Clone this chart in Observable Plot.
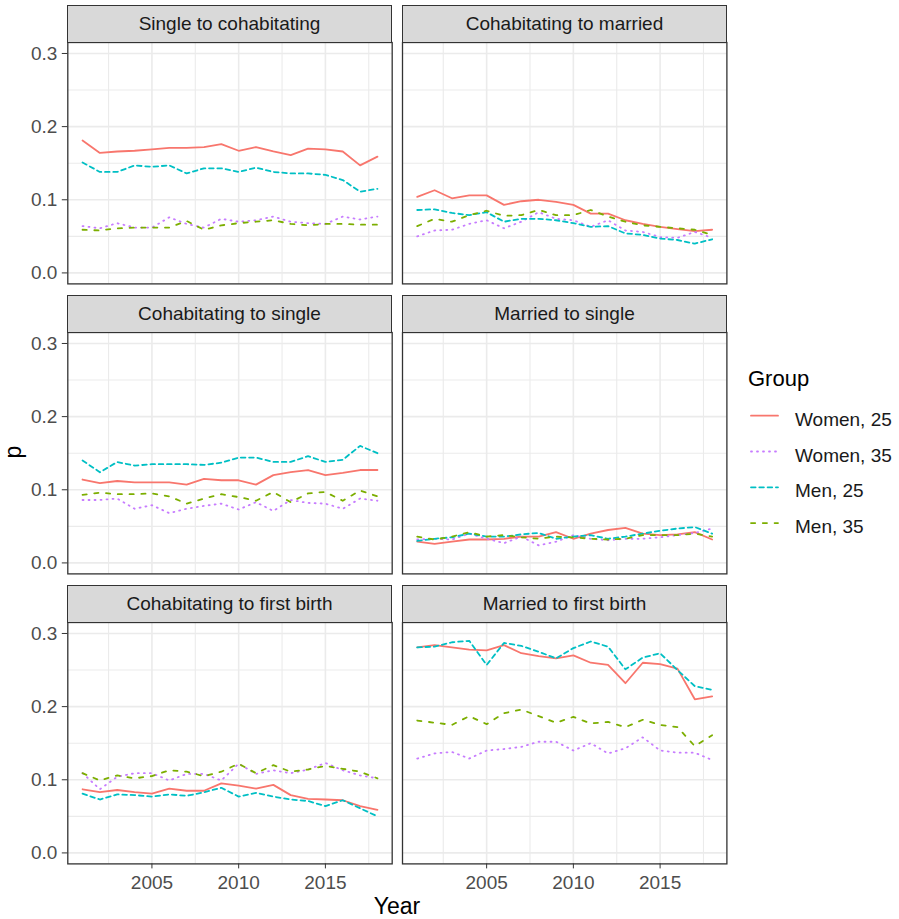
<!DOCTYPE html>
<html><head><meta charset="utf-8">
<script src="https://cdn.jsdelivr.net/npm/d3@7"></script>
<script src="https://cdn.jsdelivr.net/npm/@observablehq/plot@0.6"></script>
<style>
body{margin:0;background:#fff;font-family:"Liberation Sans",Arial,sans-serif;}
#chart{position:relative;width:899px;height:919px;overflow:hidden;background:#fff;}
.strip{position:absolute;box-sizing:border-box;background:#d9d9d9;border:1.3px solid #333;color:#1a1a1a;font-size:19px;display:flex;align-items:center;justify-content:center;}
.pl{position:absolute;}
#overlay{position:absolute;left:0;top:0;pointer-events:none;}
</style></head><body><div id="chart"></div>
<script>
// ---- data ----
const years = [2001,2002,2003,2004,2005,2006,2007,2008,2009,2010,2011,2012,2013,2014,2015,2016,2017,2018];
const groups = ["Women, 25","Women, 35","Men, 25","Men, 35"];
const panelTitles = ["Single to cohabitating","Cohabitating to married","Cohabitating to single","Married to single","Cohabitating to first birth","Married to first birth"];

// each panel: [Women 25, Women 35, Men 25, Men 35]
const singleToCohab_W25 = [0.181,0.164,0.166,0.167,0.169,0.171,0.171,0.172,0.176,0.167,0.172,0.166,0.161,0.170,0.169,0.166,0.147,0.159];
const singleToCohab_W35 = [0.064,0.061,0.068,0.062,0.062,0.076,0.067,0.062,0.074,0.070,0.072,0.077,0.070,0.068,0.067,0.077,0.073,0.077];
const singleToCohab_M25 = [0.151,0.138,0.138,0.147,0.145,0.147,0.136,0.143,0.143,0.138,0.144,0.138,0.136,0.136,0.134,0.127,0.111,0.115];
const singleToCohab_M35 = [0.059,0.058,0.061,0.062,0.062,0.062,0.071,0.059,0.065,0.068,0.070,0.072,0.067,0.065,0.067,0.067,0.066,0.066];

const cohabToMarried_W25 = [0.104,0.113,0.102,0.106,0.106,0.093,0.098,0.100,0.097,0.093,0.081,0.081,0.072,0.067,0.063,0.060,0.057,0.059];
const cohabToMarried_W35 = [0.050,0.058,0.059,0.067,0.072,0.061,0.070,0.083,0.074,0.072,0.063,0.072,0.058,0.056,0.049,0.048,0.056,0.048];
const cohabToMarried_M25 = [0.086,0.087,0.082,0.079,0.083,0.070,0.074,0.074,0.072,0.068,0.063,0.064,0.054,0.052,0.047,0.045,0.040,0.046];
const cohabToMarried_M35 = [0.064,0.074,0.070,0.079,0.085,0.078,0.079,0.086,0.079,0.079,0.086,0.077,0.070,0.065,0.063,0.061,0.059,0.052];

const cohabToSingle_W25 = [0.114,0.109,0.112,0.110,0.110,0.110,0.107,0.115,0.113,0.113,0.107,0.120,0.124,0.127,0.120,0.123,0.127,0.127];
const cohabToSingle_W35 = [0.086,0.086,0.088,0.074,0.079,0.068,0.074,0.078,0.081,0.073,0.083,0.071,0.086,0.082,0.081,0.074,0.088,0.085];
const cohabToSingle_M25 = [0.140,0.124,0.138,0.133,0.135,0.135,0.135,0.134,0.137,0.144,0.144,0.138,0.138,0.146,0.138,0.141,0.160,0.150];
const cohabToSingle_M35 = [0.093,0.096,0.094,0.094,0.095,0.091,0.081,0.088,0.094,0.090,0.085,0.097,0.083,0.095,0.097,0.085,0.099,0.091];

const marriedToSingle_W25 = [0.029,0.026,0.029,0.032,0.032,0.033,0.036,0.036,0.042,0.033,0.040,0.045,0.048,0.040,0.038,0.039,0.042,0.032];
const marriedToSingle_W35 = [0.032,0.033,0.032,0.040,0.033,0.027,0.036,0.024,0.029,0.038,0.033,0.031,0.033,0.033,0.035,0.038,0.041,0.047];
const marriedToSingle_M25 = [0.030,0.033,0.035,0.040,0.036,0.036,0.039,0.041,0.033,0.036,0.038,0.033,0.036,0.040,0.044,0.047,0.049,0.040];
const marriedToSingle_M35 = [0.036,0.032,0.036,0.042,0.036,0.038,0.035,0.033,0.036,0.035,0.033,0.032,0.033,0.038,0.038,0.038,0.040,0.036];

const cohabToBirth_W25 = [0.087,0.083,0.086,0.083,0.081,0.088,0.085,0.085,0.095,0.092,0.088,0.093,0.079,0.074,0.073,0.072,0.064,0.059];
const cohabToBirth_W35 = [0.109,0.087,0.104,0.109,0.109,0.099,0.108,0.108,0.099,0.122,0.108,0.113,0.109,0.114,0.123,0.113,0.106,0.102];
const cohabToBirth_M25 = [0.081,0.073,0.080,0.079,0.077,0.080,0.078,0.083,0.089,0.077,0.082,0.077,0.073,0.071,0.064,0.072,0.061,0.050];
const cohabToBirth_M35 = [0.109,0.099,0.106,0.102,0.105,0.113,0.111,0.105,0.111,0.122,0.109,0.120,0.111,0.114,0.119,0.115,0.111,0.102];

const marriedToBirth_W25 = [0.281,0.284,0.281,0.278,0.277,0.284,0.273,0.269,0.266,0.270,0.260,0.257,0.232,0.260,0.258,0.252,0.210,0.214];
const marriedToBirth_W35 = [0.129,0.136,0.138,0.129,0.140,0.142,0.145,0.152,0.152,0.140,0.150,0.136,0.143,0.158,0.140,0.137,0.137,0.127];
const marriedToBirth_M25 = [0.281,0.282,0.288,0.290,0.257,0.287,0.283,0.275,0.266,0.280,0.289,0.282,0.251,0.267,0.273,0.250,0.228,0.223];
const marriedToBirth_M35 = [0.181,0.178,0.175,0.187,0.176,0.191,0.196,0.187,0.178,0.186,0.177,0.179,0.172,0.182,0.175,0.172,0.146,0.161];

const panelValues = [
  [singleToCohab_W25, singleToCohab_W35, singleToCohab_M25, singleToCohab_M35],
  [cohabToMarried_W25, cohabToMarried_W35, cohabToMarried_M25, cohabToMarried_M35],
  [cohabToSingle_W25, cohabToSingle_W35, cohabToSingle_M25, cohabToSingle_M35],
  [marriedToSingle_W25, marriedToSingle_W35, marriedToSingle_M25, marriedToSingle_M35],
  [cohabToBirth_W25, cohabToBirth_W35, cohabToBirth_M25, cohabToBirth_M35],
  [marriedToBirth_W25, marriedToBirth_W35, marriedToBirth_M25, marriedToBirth_M35]
];

const yMajor = [0, 0.1, 0.2, 0.3];
const yMinor = [0.05, 0.15, 0.25];
const xMajor = [2005, 2010, 2015];
const xMinor = [2002.5, 2007.5, 2012.5, 2017.5];

// ---- styles ----
const colors = ["#F8766D", "#C77CFF", "#00BFC4", "#7CAE00"];
const dashes = ["none", "1,5", "4.6,3.7", "4.2,7.6"];
const font = '"Liberation Sans", Arial, sans-serif';

const colX = [67.3, 402.3], rowY = [42.3, 332.3, 622.3];
const panelW = 324.4, panelH = 241.4, stripH = 37.3;

const chart = document.getElementById("chart");

panelTitles.forEach((title, i) => {
  const r = Math.floor(i / 2), c = i % 2;
  const vals = panelValues[i];
  const rows = groups.flatMap((g, gi) => years.map((yr, k) => ({year: yr, p: vals[gi][k], group: g})));
  const mL = c === 0 ? colX[0] : 1, mR = 1, mT = 1, mB = r === 2 ? 40 : 1;

  const strip = document.createElement("div");
  strip.className = "strip";
  strip.style.left = colX[c] + "px";
  strip.style.top = (rowY[r] - stripH) + "px";
  strip.style.width = panelW + "px";
  strip.style.height = (stripH + 0.6) + "px";
  strip.textContent = title;

  const marks = [
    Plot.ruleY(yMinor, {stroke: "#ebebeb", strokeWidth: 1.1}),
    Plot.ruleY(yMajor, {stroke: "#ebebeb", strokeWidth: 1.6}),
    Plot.ruleX(xMinor, {stroke: "#ebebeb", strokeWidth: 1.1}),
    Plot.ruleX(xMajor, {stroke: "#ebebeb", strokeWidth: 1.6}),
    ...groups.map((g, gi) => Plot.line(rows.filter(d => d.group === g), {
      x: "year", y: "p", stroke: "group", strokeWidth: 1.8,
      strokeDasharray: dashes[gi], strokeLinecap: "round", strokeLinejoin: "round"
    })),
    Plot.frame({stroke: "#333", strokeWidth: 1.3})
  ];
  if (c === 0) marks.push(Plot.axisY(yMajor, {tickFormat: d3.format(".1f"), tickSize: 5.5, tickPadding: 5, fontSize: 19, stroke: "#333", fill: "#4d4d4d", label: null}));
  if (r === 2) marks.push(Plot.axisX(xMajor, {tickFormat: d => String(d), tickSize: 5, tickPadding: 7, fontSize: 19, stroke: "#333", fill: "#4d4d4d", label: null}));

  const svg = Plot.plot({
    width: mL + panelW + mR,
    height: mT + panelH + mB,
    marginLeft: mL, marginRight: mR, marginTop: mT, marginBottom: mB,
    x: {domain: [2000.15, 2018.85], axis: null},
    y: {domain: [-0.015, 0.315], axis: null},
    color: {domain: groups, range: colors},
    style: {background: "transparent", overflow: "visible", fontFamily: font, fontSize: "19px"},
    marks
  });
  svg.classList.add("pl");
  svg.style.left = (colX[c] - mL) + "px";
  svg.style.top = (rowY[r] - mT) + "px";
  svg.style.maxWidth = "none";
  chart.appendChild(svg);
  chart.appendChild(strip);
});

// ---- titles & legend ----
const ov = d3.select(chart).append("svg").attr("id", "overlay").attr("width", 899).attr("height", 919)
  .style("font-family", font);
ov.append("text").attr("x", 397).attr("y", 914).attr("text-anchor", "middle")
  .attr("font-size", 23).attr("fill", "#000").text("Year");
ov.append("text").attr("transform", "translate(21,452) rotate(-90)").attr("text-anchor", "middle")
  .attr("font-size", 23).attr("fill", "#000").text("p");
ov.append("text").attr("x", 748).attr("y", 386).attr("font-size", 22).attr("fill", "#000").text("Group");
groups.forEach((g, gi) => {
  const y = 415.7 + gi * 35.8;
  ov.append("line").attr("x1", 751).attr("x2", 778).attr("y1", y).attr("y2", y)
    .attr("stroke", colors[gi]).attr("stroke-width", 1.8).attr("stroke-linecap", "round")
    .attr("stroke-dasharray", dashes[gi]);
  ov.append("text").attr("x", 795).attr("y", y + 10).attr("font-size", 19).attr("fill", "#1a1a1a").text(g);
});
</script></body></html>
